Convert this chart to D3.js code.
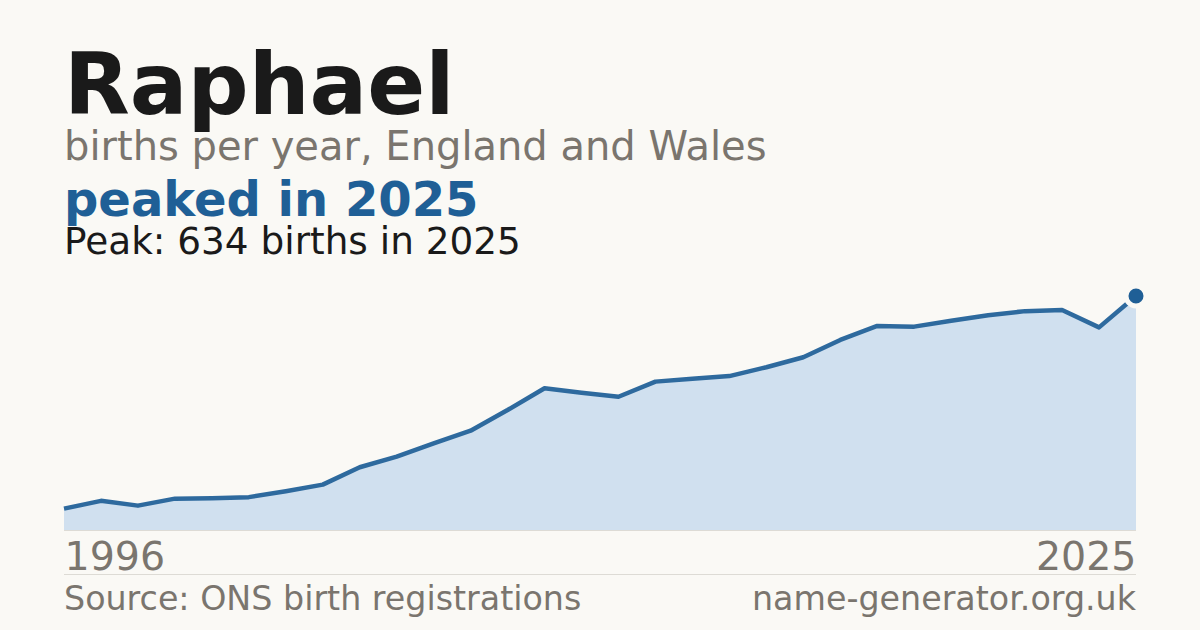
<!DOCTYPE html>
<html>
<head>
<meta charset="utf-8">
<script src="https://cdn.jsdelivr.net/npm/d3@7"></script>
<style>
html,body{margin:0;padding:0;background:#faf9f5;}
svg{display:block;}
text{font-family:"DejaVu Sans",sans-serif;}
</style>
</head>
<body>
<svg id="chart" width="1200" height="630"></svg>
<script>
const years = [1996,1997,1998,1999,2000,2001,2002,2003,2004,2005,2006,2007,2008,2009,2010,2011,2012,2013,2014,2015,2016,2017,2018,2019,2020,2021,2022,2023,2024,2025];
const births = [58,79,66,85,86,89,105,123,170,199,235,269,325,384,372,361,402,410,417,441,468,515,553,551,567,582,593,596,549,634];
const tickLabels = ["1996","2025"];
const titleText = "Raphael";
const subtitleText = "births per year, England and Wales";
const highlightText = "peaked in 2025";
const peakText = "Peak: 634 births in 2025";
const sourceText = "Source: ONS birth registrations";
const siteText = "name-generator.org.uk";

(function(){
const data = years.map((yr,i)=>({year:yr, value:births[i]}));
const svg = d3.select("#chart");
svg.append("rect").attr("width",1200).attr("height",630).attr("fill","#faf9f5");

const pLeft = 64, pRight = 1136, pBottom = 530, pTop = 296;
const x = d3.scaleLinear().domain(d3.extent(years)).range([pLeft,pRight]);
const y = d3.scaleLinear().domain([0, d3.max(births)]).range([pBottom, pTop]);

svg.append("text").attr("x",64).attr("y",114).attr("font-size",85.5).attr("font-weight","bold").attr("fill","#1a1a1a").text(titleText);
svg.append("text").attr("x",64).attr("y",160).attr("font-size",40).attr("fill","#7a756e").text(subtitleText);
svg.append("text").attr("x",64).attr("y",216).attr("font-size",48).attr("font-weight","bold").attr("fill","#1f5f96").text(highlightText);
svg.append("text").attr("x",64).attr("y",254).attr("font-size",37.4).attr("fill","#1a1a1a").text(peakText);

const area = d3.area().x(d=>x(d.year)).y0(pBottom).y1(d=>y(d.value));
svg.append("path").datum(data).attr("d",area).attr("fill","#d0e0ef");

svg.append("line").attr("x1",pLeft).attr("x2",pRight).attr("y1",pBottom+0.5).attr("y2",pBottom+0.5).attr("stroke","#dddbd5").attr("stroke-width",1);

const line = d3.line().x(d=>x(d.year)).y(d=>y(d.value));
svg.append("path").datum(data).attr("d",line).attr("fill","none").attr("stroke","#2e6a9e").attr("stroke-width",4.5).attr("stroke-linejoin","round");

const last = data[data.length-1];
svg.append("circle").attr("cx",x(last.year)).attr("cy",y(last.value)).attr("r",10).attr("fill","#1f5f96").attr("stroke","#faf9f5").attr("stroke-width",5);

const xAxis = d3.axisBottom(x).tickValues([years[0], years[years.length-1]]).tickFormat((d,i)=>tickLabels[i]).tickSize(0);
const ax = svg.append("g").attr("transform",`translate(0,${pBottom})`).call(xAxis);
ax.select(".domain").remove();
ax.selectAll("text").attr("font-size",39.5).attr("fill","#7a756e").attr("dy",null).attr("y",40)
  .attr("font-family","DejaVu Sans, sans-serif")
  .attr("text-anchor",(d,i)=> i===0 ? "start" : "end");

svg.append("line").attr("x1",pLeft).attr("x2",pRight).attr("y1",574.5).attr("y2",574.5).attr("stroke","#dddbd5").attr("stroke-width",1);
svg.append("text").attr("x",64).attr("y",610).attr("font-size",33.3).attr("fill","#7a756e").text(sourceText);
svg.append("text").attr("x",1136).attr("y",610).attr("text-anchor","end").attr("font-size",33.3).attr("fill","#7a756e").text(siteText);
})();
</script>
</body>
</html>
